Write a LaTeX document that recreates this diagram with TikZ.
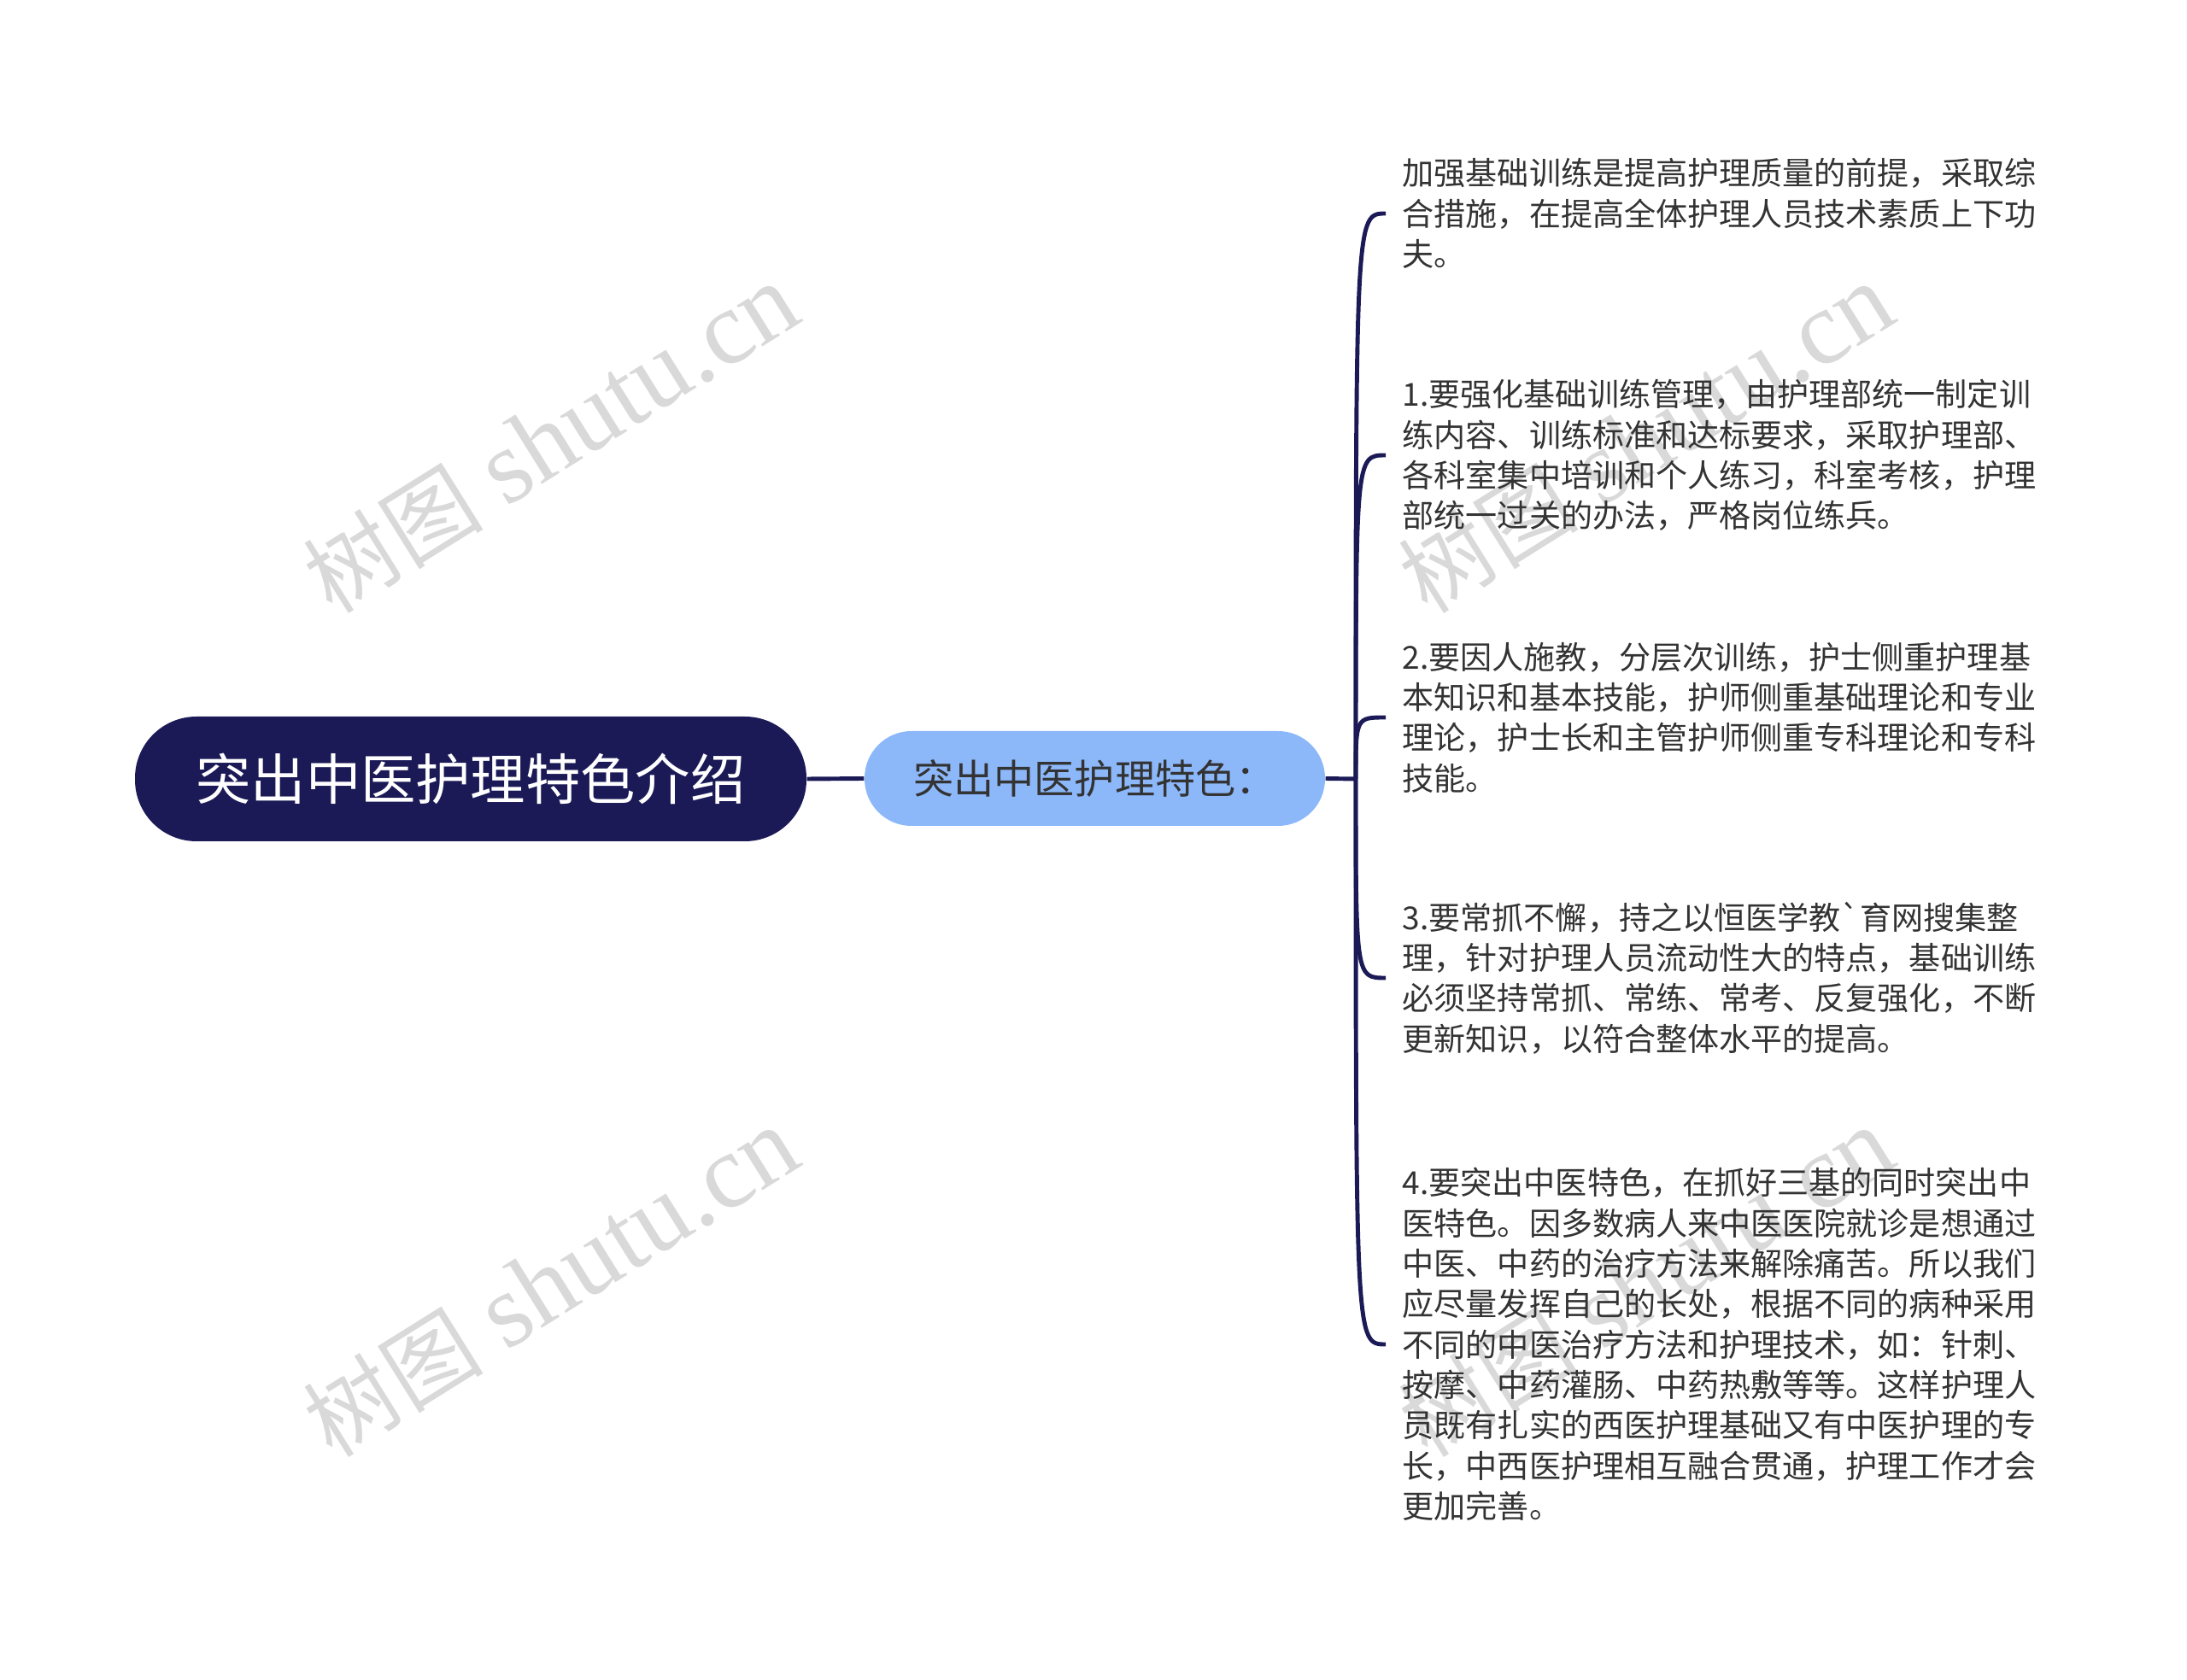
\documentclass[tikz,border=0pt]{standalone}
\usepackage{fontspec}
\setmainfont{Noto Sans CJK SC}[Ligatures=TeXOff]
\newfontfamily\wmfont{Liberation Serif}
\usetikzlibrary{calc,positioning}
\definecolor{MapNavy}{HTML}{1B1A57}
\definecolor{MapBlue}{HTML}{8CB8FA}
\definecolor{MapText}{HTML}{333333}
\definecolor{MapMark}{HTML}{D9D9D9}

\begin{document}
\begin{tikzpicture}[
    rootbox/.style = {fill=MapNavy, text=white, rounded corners=0.72cm,
                      minimum width=7.86cm, minimum height=1.46cm,
                      font=\fontsize{18.3}{22}\selectfont},
    subbox/.style  = {fill=MapBlue, text=MapText, rounded corners=0.55cm,
                      minimum width=5.39cm, minimum height=1.11cm,
                      font=\fontsize{13.4}{16}\selectfont},
    leafbox/.style = {anchor=west, inner xsep=0.19cm, inner ysep=0pt,
                      align=left, text=MapText,
                      font=\fontsize{10.55}{13.46}\selectfont},
    wmark/.style   = {text=MapMark, rotate=32,
                      font=\fontsize{35}{40}\selectfont},
    link/.style    = {draw=MapNavy, line width=1.4pt},
  ]
% page
\useasboundingbox (0,0) rectangle (25.6,-19.67);

% watermarks
\def\WaterMark{{\fontsize{30}{36}\selectfont 树图} {\wmfont shutu.cn}}
\node [wmark] (wm1) at (6.45,-5.14)  {\WaterMark};
\node [wmark] (wm2) at (6.45,-15.02) {\WaterMark};
\node [wmark] (wm3) at (19.27,-5.14) {\WaterMark};
\node [wmark] (wm4) at (19.27,-15.02) {\WaterMark};

% main nodes
\node [rootbox] (root) at (5.51,-9.12) {突出中医护理特色介绍};
\node [subbox]  (sub)  at (12.815,-9.115) {突出中医护理特色：};
\coordinate (J) at (15.87,-9.12);

% leaves
\node [leafbox] (L0) at (16.22,-2.50) {加强基础训练是提高护理质量的前提，采取综\\
合措施，在提高全体护理人员技术素质上下功\\
夫。};
\node [leafbox] (L1) at (16.22,-5.33) {1.要强化基础训练管理，由护理部统一制定训\\
练内容、训练标准和达标要求，采取护理部、\\
各科室集中培训和个人练习，科室考核，护理\\
部统一过关的办法，严格岗位练兵。};
\node [leafbox] (L2) at (16.22,-8.40) {2.要因人施教，分层次训练，护士侧重护理基\\
本知识和基本技能，护师侧重基础理论和专业\\
理论，护士长和主管护师侧重专科理论和专科\\
技能。};
\node [leafbox] (L3) at (16.22,-11.45) {3.要常抓不懈，持之以恒医学教`育网搜集整\\
理，针对护理人员流动性大的特点，基础训练\\
必须坚持常抓、常练、常考、反复强化，不断\\
更新知识，以符合整体水平的提高。};
\node [leafbox] (L4) at (16.22,-15.74) {4.要突出中医特色，在抓好三基的同时突出中\\
医特色。因多数病人来中医医院就诊是想通过\\
中医、中药的治疗方法来解除痛苦。所以我们\\
应尽量发挥自己的长处，根据不同的病种采用\\
不同的中医治疗方法和护理技术，如：针刺、\\
按摩、中药灌肠、中药热敷等等。这样护理人\\
员既有扎实的西医护理基础又有中医护理的专\\
长，中西医护理相互融合贯通，护理工作才会\\
更加完善。};

% connectors
\draw [link] (root.east) -- (sub.west);
\draw [link] (sub.east) -- (J);
\foreach \i in {0,...,4}
    \draw [link] (J) .. controls (J |- L\i.west) .. (L\i.west);

\end{tikzpicture}
\end{document}
